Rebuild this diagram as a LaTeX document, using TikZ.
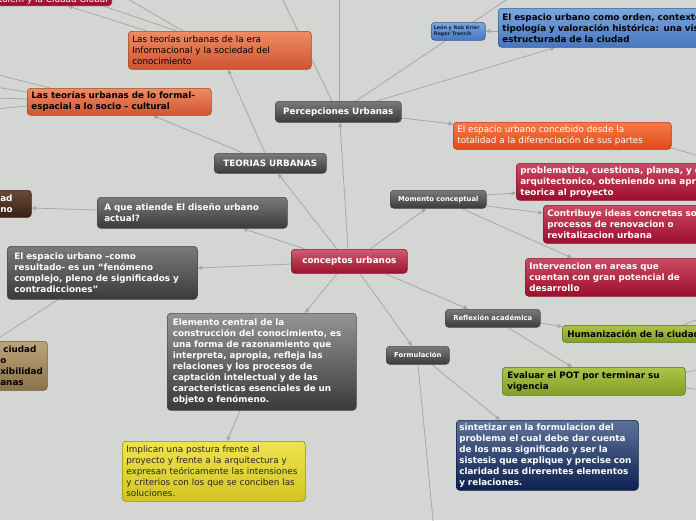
\documentclass[tikz,border=0pt]{standalone}
\usepackage{fontspec}
\setmainfont{DejaVu Sans}
\usetikzlibrary{arrows.meta,positioning}

\definecolor{bgcol}{HTML}{D4D6D3}
\definecolor{linkcol}{HTML}{A4A6A4}
\definecolor{darkT}{HTML}{7A7A7A}
\definecolor{darkB}{HTML}{3A3A3A}
\definecolor{darkD}{HTML}{4A4A4A}
\definecolor{crimT}{HTML}{CC4A63}
\definecolor{crimB}{HTML}{9C0E2D}
\definecolor{crimD}{HTML}{8A1A32}
\definecolor{orangeT}{HTML}{F08B62}
\definecolor{orangeB}{HTML}{CF5430}
\definecolor{orangeD}{HTML}{9E4A2C}
\definecolor{flameT}{HTML}{F67A48}
\definecolor{flameB}{HTML}{E04A16}
\definecolor{blueT}{HTML}{7CA6DD}
\definecolor{blueB}{HTML}{4576BF}
\definecolor{blueD}{HTML}{3A5C92}
\definecolor{brownT}{HTML}{6C4838}
\definecolor{brownB}{HTML}{3A2116}
\definecolor{tanT}{HTML}{BDA47B}
\definecolor{tanB}{HTML}{8B7148}
\definecolor{yellowT}{HTML}{EEE450}
\definecolor{yellowB}{HTML}{D3C421}
\definecolor{greenT}{HTML}{AEC34C}
\definecolor{greenB}{HTML}{839E22}
\definecolor{navyT}{HTML}{5E7299}
\definecolor{navyB}{HTML}{0D2050}

\pgfdeclarelayer{bg}
\pgfsetlayers{bg,main}

\tikzset{
  topic/.style={draw, rounded corners=3.5pt, anchor=north west, inner xsep=4pt, inner ysep=1pt,
    align=left, line width=0.6pt, text=white, font=\fontsize{8.8}{11}\selectfont\bfseries},
  darkbox/.style={topic, top color=darkT, bottom color=darkB, draw=darkD},
  tagbox/.style={darkbox, align=center, font=\fontsize{6.8}{8}\selectfont\bfseries},
  crimbox/.style={topic, top color=crimT, bottom color=crimB, draw=crimD},
  orangebox/.style={topic, top color=orangeT, bottom color=orangeB, draw=orangeD, text=black},
  flamebox/.style={topic, top color=flameT, bottom color=flameB, draw=flameB!80!black},
  bluebox/.style={topic, top color=blueT, bottom color=blueB, draw=blueD, text=black},
  brownbox/.style={topic, top color=brownT, bottom color=brownB, draw=brownB},
  tanbox/.style={topic, top color=tanT, bottom color=tanB, draw=tanB!80!black, text=black},
  yellowbox/.style={topic, top color=yellowT, bottom color=yellowB, draw=yellowB!70!black, text=black!85},
  greenbox/.style={topic, top color=greenT, bottom color=greenB, draw=greenB!70!black, text=black},
  navybox/.style={topic, top color=navyT, bottom color=navyB, draw=navyB},
  link/.style={draw=linkcol, line width=0.75pt, -{Triangle[length=4.5pt,width=4pt]}},
}

\begin{document}
\begin{tikzpicture}[x=1pt,y=-1pt]
  \useasboundingbox (0,0) rectangle (696,520);
  \begin{scope}
    \clip (0,0) rectangle (696,520);

    % Centre
    \node[crimbox, align=center, minimum width=116pt, minimum height=24pt, top color=crimT!90!white] (conc) at (291,249) {conceptos urbanos};

    % Teorias
    \node[darkbox, align=center, minimum width=112pt, minimum height=20pt] (teo) at (214,153) {TEORIAS URBANAS};
    \node[orangebox, font=\fontsize{8.8}{11}\selectfont, text width=175pt, minimum height=38pt] (info) at (128,31)
      {Las teorías urbanas de la era\\Informacional y la sociedad del\\conocimiento};
    \node[orangebox, text width=176pt, minimum height=27pt] (formal) at (27,88)
      {Las teorías urbanas de lo formal-\\espacial a lo socio – cultural};
    \node[crimbox, anchor=south east, align=right, text width=132pt, minimum height=12pt,
      font=\fontsize{8.8}{11}\selectfont, top color=crimB!90!white] (glob) at (112,6) {tolem y la Ciudad Global};

    % Percepciones
    \node[darkbox, align=center, minimum width=126pt, minimum height=21pt] (perc) at (275,101) {Percepciones Urbanas};
    \node[bluebox, font=\fontsize{4.9}{6}\selectfont\bfseries, text=blueD!40!black, inner xsep=2.5pt, text width=49pt, minimum height=18pt] (leon) at (431,22)
      {León y Rob Krier\\Roger Trancik};
    \node[bluebox, text width=240pt, minimum height=39pt] (orden) at (498,8)
      {El espacio urbano como orden, contexto,\\tipología y valoración histórica: una visión\\estructurada de la ciudad};
    \node[flamebox, font=\fontsize{8.8}{11}\selectfont, text width=210pt, minimum height=27pt] (conceb) at (453,122)
      {El espacio urbano concebido desde la\\totalidad a la diferenciación de sus partes};

    % Momento conceptual
    \node[tagbox, minimum width=96pt, minimum height=18pt] (mom) at (390,190) {Momento conceptual};
    \node[crimbox, text width=230pt, minimum height=37pt] (probl) at (516,163)
      {problematiza, cuestiona, planea, y diseña\\arquitectonico, obteniendo una aproximación\\teorica al proyecto};
    \node[crimbox, text width=200pt, minimum height=38pt] (contrib) at (543,205)
      {Contribuye ideas concretas sobre los\\procesos de renovacion o\\revitalizacion urbana};
    \node[crimbox, text width=200pt, minimum height=38pt] (interv) at (525,258)
      {Intervencion en areas que\\cuentan con gran potencial de\\desarrollo};

    % Left side
    \node[darkbox, inner xsep=7pt, text width=176pt, minimum height=31pt] (atiende) at (97,197)
      {A que atiende El diseño urbano\\actual?};
    \node[brownbox, text width=27pt, minimum height=27pt] (brown) at (-4,190) {ad\\no};
    \node[darkbox, inner xsep=7pt, text width=176pt, minimum height=53pt] (result) at (7,246)
      {El espacio urbano –como\\resultado- es un “fenómeno\\complejo, pleno de significados y\\contradicciones”};
    \node[tanbox, inner xsep=6pt, text width=41pt, minimum height=49pt] (tan) at (-6,341)
      {\hspace*{3pt}ciudad\\o\\xibilidad\\anas};

    % Elemento central
    \node[darkbox, top color=darkT!80!white, inner xsep=5.5pt, text width=178pt, minimum height=97pt] (elem) at (167,313)
      {Elemento central de la\\construcción del conocimiento, es\\una forma de razonamiento que\\interpreta, apropia, refleja las\\relaciones y los procesos de\\captación intelectual y de las\\caracteristicas esenciales de un\\objeto o fenómeno.};
    \node[yellowbox, font=\fontsize{8.8}{11}\selectfont, text width=175pt, minimum height=60pt] (impl) at (122,441)
      {Implican una postura frente al\\proyecto y frente a la arquitectura y\\expresan teóricamente las intensiones\\y criterios con los que se conciben las\\soluciones.};

    % Reflexion y formulacion
    \node[tagbox, minimum width=95pt, minimum height=18pt] (refl) at (445,309) {Reflexión académica};
    \node[greenbox, inner xsep=5pt, text width=160pt, minimum height=17pt] (human) at (562,325) {Humanización de la ciudad};
    \node[tagbox, minimum width=63pt, minimum height=18pt] (form) at (386,346) {Formulación};
    \node[greenbox, inner xsep=5pt, text width=173pt, minimum height=28pt] (eval) at (502,367)
      {Evaluar el POT por terminar su\\vigencia};
    \node[navybox, inner xsep=3pt, text width=176pt, minimum height=70pt] (sint) at (456,420)
      {sintetizar en la formulacion del\\problema el cual debe dar cuenta\\de los mas significado y ser la\\sistesis que explique y precise con\\claridad sus direrentes elementos\\y relaciones.};
  \end{scope}

  \begin{pgfonlayer}{bg}
    \clip (0,0) rectangle (696,520);
    \fill[bgcol] (0,0) rectangle (696,520);

    % free ends outside the page
    \coordinate (pT) at (339,-10);
    \coordinate (pTL) at (278,-10);
    \coordinate (pTR) at (518,-8);
    \coordinate (iT1) at (62,-8);
    \coordinate (iT2) at (119,-6);
    \coordinate (cR) at (706,158);
    \coordinate (hR) at (706,316);
    \coordinate (eR1) at (706,369);
    \coordinate (eR2) at (706,390);
    \coordinate (fB) at (434,530);
    \coordinate (fL1) at (-5,74);

    % from conceptos
    \draw[link] ([xshift=46pt]conc.north west) -- ([xshift=64pt]teo.south west);
    \draw[link] ([xshift=57pt]conc.north west) -- ([xshift=65pt]perc.south west);
    \draw[link] ([xshift=14pt]conc.north west) -- ([xshift=146pt]atiende.south west);
    \draw[link] ([yshift=-15pt]conc.north west) -- ([yshift=-22pt]result.north east);
    \draw[link] ([xshift=79pt]conc.north west) -- ([xshift=36pt]mom.south west);
    \draw[link] ([xshift=94pt]conc.south west) -- ([xshift=23pt]refl.north west);
    \draw[link] ([xshift=69pt]conc.south west) -- ([xshift=26pt]form.north west);
    \draw[link] ([xshift=46pt]conc.south west) -- ([xshift=138pt]elem.north west);

    % teorias
    \draw[link] ([xshift=51pt]teo.north west) -- ([xshift=100pt]info.south west);
    \draw[link] ([xshift=29pt]teo.north west) -- ([xshift=126pt]formal.south west);
    \draw[link] ([xshift=19pt]info.north west) -- ([xshift=-44pt]glob.south east);
    \draw[link] ([xshift=49pt]info.north west) -- (iT1);
    \draw[link] ([xshift=55pt]info.north west) -- (iT2);
    \draw[link] ([xshift=23pt]formal.north west) -- (fL1);
    \foreach \i/\dy/\ty in {2/4/87,3/11/98,4/18/109} {
      \coordinate (fL\i) at (-5,\ty);
      \draw[link] ([yshift=-\dy pt]formal.north west) -- (fL\i);
    }

    % percepciones
    \draw[link] ([xshift=64pt]perc.north west) -- (pT);
    \draw[link] ([xshift=57pt]perc.north west) -- (pTL);
    \draw[link] ([xshift=81pt]perc.north west) -- (pTR);
    \draw[link] ([xshift=102pt]perc.north west) -- ([xshift=57pt]orden.south west);
    \draw[link] ([yshift=-17pt]perc.north east) -- ([yshift=-2pt]conceb.north west);
    \draw[link] ([yshift=-23pt]orden.north west) -- ([yshift=-9pt]leon.north east);
    \draw[link] ([yshift=-26pt]conceb.north east) -- (cR);

    % momento conceptual
    \draw[link] ([yshift=-5pt]mom.north east) -- ([yshift=-30pt]probl.north west);
    \draw[link] ([yshift=-16pt]mom.north east) -- ([yshift=-8pt]contrib.north west);
    \draw[link] ([xshift=72pt]mom.south west) -- ([xshift=47pt]interv.north west);

    % left side
    \draw[link] ([yshift=-13pt]atiende.north west) -- ([yshift=-18pt]brown.north east);
    \draw[link] ([xshift=51pt]result.south west) -- (tan.north west);
    \draw[link] ([xshift=73pt]elem.south west) -- ([xshift=105pt]impl.north west);

    % reflexion y formulacion
    \draw[link] ([yshift=-14pt]refl.north east) -- ([yshift=-1.5pt]human.north west);
    \draw[link] ([xshift=63pt]refl.south west) -- ([xshift=70pt]eval.north west);
    \draw[link] ([xshift=121pt]human.north west) -- (hR);
    \draw[link] ([yshift=-5pt]eval.north east) -- (eR1);
    \draw[link] ([yshift=-21pt]eval.north east) -- (eR2);
    \draw[link] ([xshift=46pt]form.south west) -- ([xshift=44pt]sint.north west);
    \draw[link] ([xshift=32pt]form.south west) -- (fB);
  \end{pgfonlayer}
\end{tikzpicture}
\end{document}
